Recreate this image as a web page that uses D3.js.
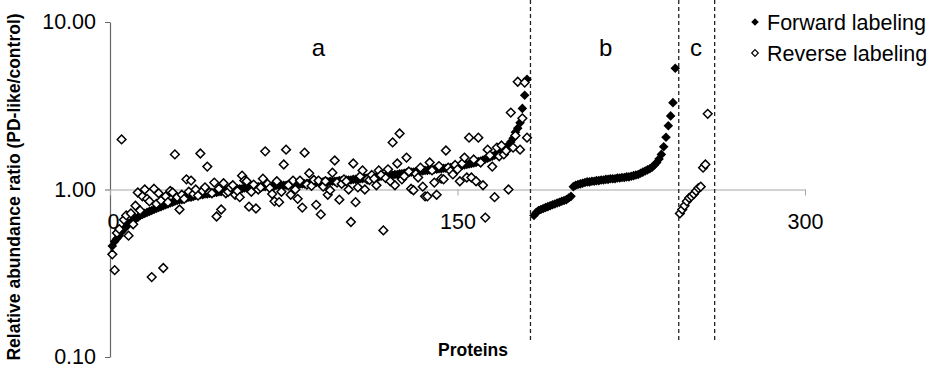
<!DOCTYPE html>
<html>
<head>
<meta charset="utf-8">
<script src="https://cdn.jsdelivr.net/npm/d3@7"></script>
<style>
  body { margin: 0; background: #fff; }
  svg { font-family: "Liberation Sans", Arial, sans-serif; }
</style>
</head>
<body>
<svg id="chart" width="930" height="374"></svg>
<script>
// forward labeling, group a (proteins 1..180, sorted ascending)
const forwardA = [
  0.46, 0.49, 0.51, 0.53, 0.56, 0.58, 0.60, 0.62, 0.64, 0.65,
  0.67, 0.68, 0.70, 0.71, 0.72, 0.73, 0.74, 0.75, 0.76, 0.77,
  0.78, 0.79, 0.80, 0.81, 0.82, 0.83, 0.84, 0.85, 0.86, 0.87,
  0.87, 0.88, 0.89, 0.90, 0.90, 0.91, 0.92, 0.92, 0.93, 0.93,
  0.94, 0.94, 0.95, 0.95, 0.96, 0.96, 0.97, 0.97, 0.98, 0.99,
  0.99, 1.00, 1.00, 1.00, 1.01, 1.01, 1.01, 1.02, 1.02, 1.02,
  1.03, 1.03, 1.03, 1.04, 1.04, 1.04, 1.04, 1.05, 1.05, 1.05,
  1.05, 1.06, 1.06, 1.06, 1.06, 1.06, 1.07, 1.07, 1.07, 1.07,
  1.07, 1.08, 1.08, 1.08, 1.09, 1.09, 1.09, 1.10, 1.10, 1.10,
  1.10, 1.11, 1.11, 1.11, 1.12, 1.12, 1.12, 1.12, 1.13, 1.13,
  1.13, 1.14, 1.14, 1.14, 1.15, 1.15, 1.15, 1.16, 1.16, 1.17,
  1.17, 1.17, 1.18, 1.18, 1.19, 1.19, 1.20, 1.20, 1.21, 1.21,
  1.22, 1.22, 1.23, 1.23, 1.24, 1.24, 1.25, 1.26, 1.26, 1.27,
  1.27, 1.28, 1.28, 1.29, 1.29, 1.30, 1.30, 1.31, 1.31, 1.32,
  1.32, 1.33, 1.33, 1.34, 1.34, 1.35, 1.35, 1.36, 1.36, 1.37,
  1.38, 1.39, 1.40, 1.41, 1.42, 1.43, 1.44, 1.45, 1.47, 1.48,
  1.50, 1.52, 1.54, 1.56, 1.58, 1.60, 1.63, 1.66, 1.70, 1.74,
  1.78, 1.84, 1.92, 2.02, 2.20, 2.32, 2.50, 3.05, 3.65, 4.55
];
// reverse labeling, group a (same proteins)
const reverseA = [
  0.41, 0.33, 0.55, 0.58, 1.99, 0.66, 0.70, 0.53, 0.72, 0.62,
  0.80, 0.96, 0.75, 0.91, 1.00, 0.88, 0.85, 0.30, 1.01, 0.82,
  0.95, 0.86, 0.34, 0.91, 0.84, 0.98, 0.96, 1.62, 0.90, 0.76,
  0.93, 0.88, 1.15, 0.97, 1.13, 0.94, 1.00, 0.92, 1.64, 0.98,
  1.03, 1.37, 0.96, 0.95, 1.10, 0.69, 1.01, 0.76, 1.09, 0.95,
  0.97, 1.03, 1.06, 0.93, 0.98, 0.90, 1.21, 1.13, 1.12, 0.79,
  0.97, 1.07, 0.77, 1.00, 1.03, 1.16, 1.69, 1.08, 1.02, 0.94,
  0.85, 1.12, 0.84, 0.97, 1.41, 1.73, 1.06, 0.93, 1.13, 1.00,
  0.88, 1.13, 0.78, 1.66, 1.07, 1.25, 1.05, 1.14, 0.81, 1.13,
  0.71, 1.04, 1.12, 0.93, 0.99, 1.26, 1.49, 1.10, 0.87, 1.08,
  1.15, 1.12, 1.00, 0.64, 1.43, 0.84, 1.03, 1.20, 1.30, 1.00,
  1.15, 1.14, 1.22, 1.16, 1.06, 1.30, 1.22, 0.57, 1.17, 1.32,
  1.12, 1.91, 1.06, 1.43, 2.16, 1.15, 1.20, 1.55, 1.28, 1.01,
  0.99, 1.24, 1.18, 1.35, 1.04, 0.91, 0.91, 1.45, 1.30, 1.10,
  0.93, 1.38, 1.16, 1.15, 1.71, 1.35, 1.29, 1.23, 1.40, 1.32,
  1.12, 1.43, 1.55, 1.18, 2.04, 1.18, 1.51, 1.12, 2.04, 1.45,
  1.06, 0.68, 1.73, 1.60, 1.37, 0.90, 1.78, 1.58, 1.83, 1.62,
  1.70, 1.00, 2.88, 1.78, 2.10, 4.40, 1.73, 2.66, 4.35, 2.04
];
// forward labeling only, group b
const forwardB = [
  0.70, 0.73, 0.75, 0.76, 0.77, 0.78, 0.79, 0.80, 0.81, 0.82,
  0.83, 0.84, 0.85, 0.86, 0.87, 0.89, 0.91, 1.04, 1.06, 1.07,
  1.08, 1.09, 1.10, 1.11, 1.11, 1.12, 1.12, 1.13, 1.13, 1.14,
  1.14, 1.15, 1.15, 1.16, 1.16, 1.16, 1.17, 1.17, 1.18, 1.18,
  1.19, 1.19, 1.20, 1.21, 1.22, 1.23, 1.25, 1.27, 1.29, 1.31,
  1.33, 1.36, 1.40, 1.45, 1.52, 1.62, 1.80, 2.05, 2.40, 2.75,
  3.30, 5.30
];
// reverse labeling only, group c
const reverseC = [0.72, 0.76, 0.80, 0.85, 0.89, 0.91, 0.94, 0.98, 1.02, 1.04, 1.35, 1.41, 2.83];

const groupStart = { a: 1, b: 183, c: 246 };
const groupNames = ['a', 'b', 'c'];
const groupLabelX = [90, 214, 253];
const dividers = [181.5, 245.5, 261];
const xTicks = [0, 150, 300];
const yTicks = [0.1, 1, 10];
const legendNames = ['Forward labeling', 'Reverse labeling'];

const svg = d3.select('#chart');
const x = d3.scaleLinear().domain([0, 300]).range([110, 805]);
const y = d3.scaleLog().domain([0.1, 10]).range([357, 22]);

// square diamond like Excel markers
const diamond = {
  draw(ctx, size) {
    const r = Math.sqrt(size) / 2;
    ctx.moveTo(0, -r); ctx.lineTo(r, 0); ctx.lineTo(0, r); ctx.lineTo(-r, 0); ctx.closePath();
  }
};
const markFill = d3.symbol().type(diamond).size(92);
const markOpen = d3.symbol().type(diamond).size(76);

// y axis
const yAxis = svg.append('g')
  .attr('transform', 'translate(110,0)')
  .call(d3.axisLeft(y).tickValues(yTicks).tickFormat(d3.format('.2f')).tickSize(5).tickSizeOuter(0).tickPadding(9));
yAxis.select('.domain').attr('stroke', '#666').attr('stroke-width', 1.2);
yAxis.selectAll('.tick line').attr('stroke', '#666');
yAxis.selectAll('text').attr('font-size', 21.5).attr('fill', '#000');

// x axis at ratio 1
const xAxis = svg.append('g')
  .attr('transform', 'translate(0,' + y(1) + ')')
  .call(d3.axisBottom(x).tickValues(xTicks).tickSize(6).tickSizeOuter(0).tickPadding(18));
xAxis.select('.domain').attr('stroke', '#a6a6a6');
xAxis.selectAll('.tick line').attr('stroke', '#a6a6a6');
xAxis.selectAll('text').attr('font-size', 21.5).attr('fill', '#000')
  .attr('dx', d => d === 0 ? 3 : 0);

// dashed dividers
svg.selectAll('.divider').data(dividers).enter().append('line')
  .attr('x1', d => x(d)).attr('x2', d => x(d))
  .attr('y1', 0).attr('y2', 341)
  .attr('stroke', '#222').attr('stroke-width', 1.3).attr('stroke-dasharray', '4,3');

// group letters
svg.selectAll('.grp').data(groupNames).enter().append('text')
  .attr('x', (d, i) => x(groupLabelX[i])).attr('y', 56)
  .attr('text-anchor', 'middle').attr('font-size', 24).text(d => d);

// points
const fwd = forwardA.map((v, i) => [groupStart.a + i, v])
  .concat(forwardB.map((v, i) => [groupStart.b + i, v]));
const rev = reverseA.map((v, i) => [groupStart.a + i, v])
  .concat(reverseC.map((v, i) => [groupStart.c + i, v]));

svg.append('g').selectAll('path').data(fwd).enter().append('path')
  .attr('transform', d => 'translate(' + x(d[0]) + ',' + y(d[1]) + ')')
  .attr('d', markFill).attr('fill', '#000');

svg.append('g').selectAll('path').data(rev).enter().append('path')
  .attr('transform', d => 'translate(' + x(d[0]) + ',' + y(d[1]) + ')')
  .attr('d', markOpen).attr('fill', '#fff').attr('stroke', '#000').attr('stroke-width', 1.5);

// axis titles
svg.append('text')
  .attr('transform', 'translate(20,187) rotate(-90)')
  .attr('text-anchor', 'middle').attr('font-size', 17.5).attr('font-weight', 'bold')
  .text('Relative abundance ratio (PD-like/control)');
svg.append('text')
  .attr('x', 473).attr('y', 356)
  .attr('text-anchor', 'middle').attr('font-size', 17.5).attr('font-weight', 'bold')
  .text('Proteins');

// legend
const legend = svg.append('g');
legendNames.forEach((name, i) => {
  const ly = 22 + i * 31;
  legend.append('path')
    .attr('transform', 'translate(755,' + ly + ')')
    .attr('d', d3.symbol().type(diamond).size(i === 0 ? 56 : 44))
    .attr('fill', i === 0 ? '#000' : '#fff')
    .attr('stroke', i === 0 ? 'none' : '#000').attr('stroke-width', 1.2);
  legend.append('text')
    .attr('x', 767).attr('y', ly + 7.5)
    .attr('font-size', 21.5).text(name);
});
</script>
</body>
</html>
